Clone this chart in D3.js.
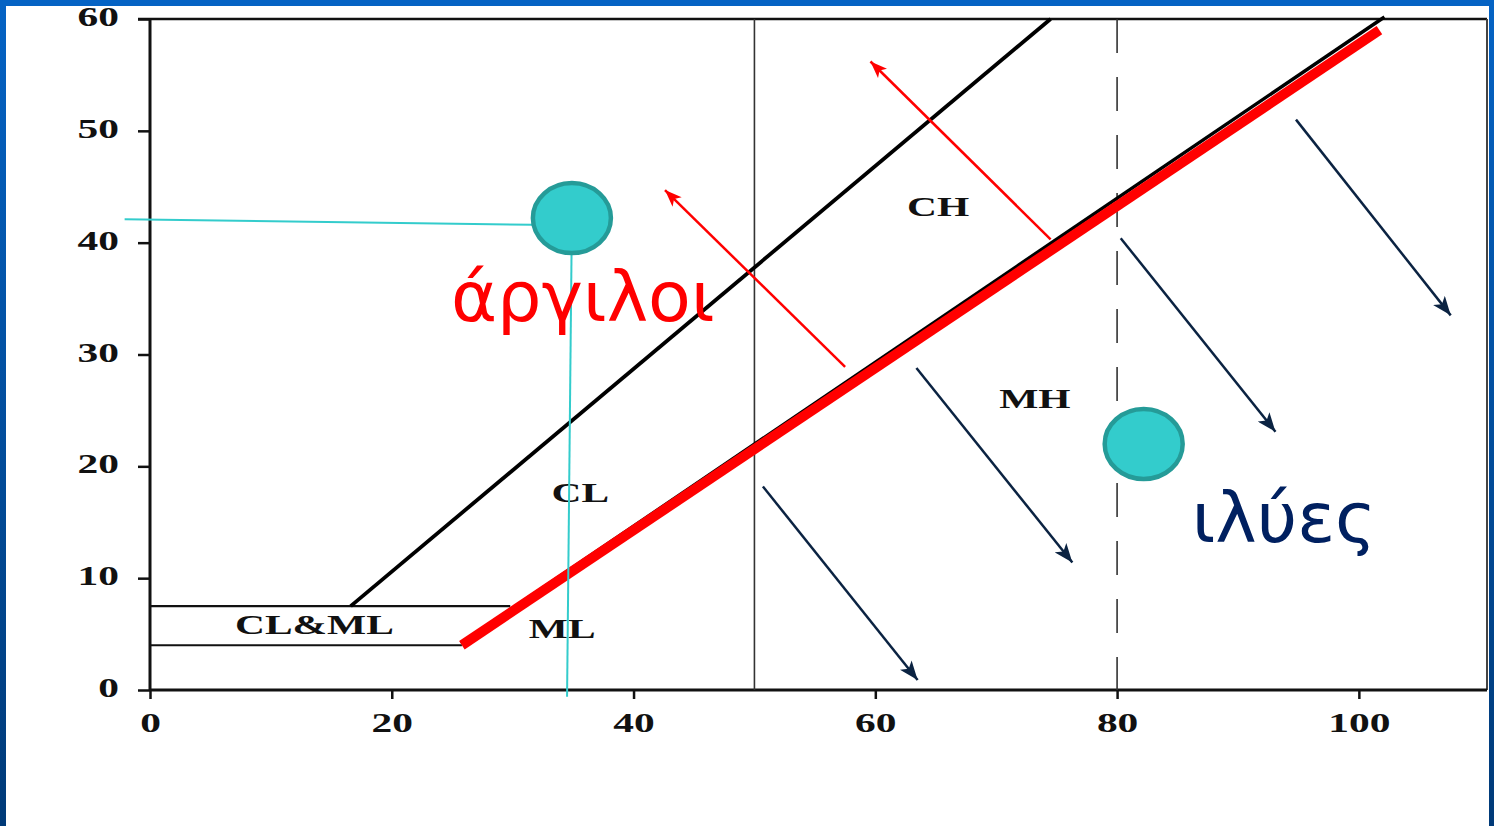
<!DOCTYPE html>
<html>
<head>
<meta charset="utf-8">
<script src="https://cdn.jsdelivr.net/npm/d3@7"></script>
<style>
  html, body { margin: 0; padding: 0; background: #ffffff; }
  svg { display: block; }
</style>
</head>
<body>
<script>
// ---------- data ----------
const xTicks = [0, 20, 40, 60, 80, 100];
const yTicks = [0, 10, 20, 30, 40, 50, 60];

// black (upper) line
const upperLine = [[16.6, 7.5], [74.5, 60]];
// A-line (red, with black under it)
const aLineBlack = [[25.8, 4.0], [102.2, 60]];
const aLineRed = [[25.8, 4.0], [101.7, 59.0]];
// CL&ML band
const bandTop = [[0, 7.5], [29.8, 7.5]];
const bandBottom = [[0, 4.0], [25.8, 4.0]];
// vertical LL lines
const llSolid = 50;
const llDashed = 80;

// cyan guide lines and markers
const guideH = [[-2.1, 42.1], [31.6, 41.6]];
const guideV = [[34.9, 42.2], [34.5, -0.6]];
const markers = [[34.9, 42.2], [82.2, 22.0]];

// zone labels
const zoneNames = ["CH", "MH", "CL", "ML", "CL&ML"];
const zoneX = [65.2, 73.2, 35.6, 34.1, 13.6];
const zoneY = [43.2, 26.1, 17.7, 5.5, 5.9];

// arrows
const redArrows = [
  [[57.5, 28.9], [42.6, 44.7]],
  [[74.5, 40.3], [59.6, 56.2]]
];
const navyArrows = [
  [[50.7, 18.2], [63.5, 0.9]],
  [[63.4, 28.8], [76.3, 11.4]],
  [[80.3, 40.4], [93.1, 23.1]],
  [[94.8, 51.0], [107.6, 33.5]]
];

// big Greek labels
const bigLabels = ["άργιλοι", "ιλύες"];
const bigX = [35.8, 93.8];
const bigY = [33.0, 13.2];
const bigColors = ["#ff0000", "#002060"];

// ---------- drawing ----------
const W = 1494, H = 826;
const svg = d3.select("body").append("svg").attr("width", W).attr("height", H);
const defs = svg.append("defs");

const grad = defs.append("linearGradient").attr("id", "blueGrad")
  .attr("x1", 0).attr("y1", 0).attr("x2", 0).attr("y2", 1);
grad.append("stop").attr("offset", "0%").attr("stop-color", "#0563c4");
grad.append("stop").attr("offset", "100%").attr("stop-color", "#003a78");

svg.append("rect").attr("width", W).attr("height", H).attr("fill", "url(#blueGrad)");
svg.append("rect").attr("x", 0).attr("y", 0).attr("width", W).attr("height", 6).attr("fill", "#0563c4");
svg.append("rect").attr("x", 6).attr("y", 6).attr("width", 1483).attr("height", H - 6).attr("fill", "#ffffff");

function arrowMarker(id, color, len, wid) {
  defs.append("marker").attr("id", id)
    .attr("viewBox", `0 0 ${len} ${wid}`)
    .attr("refX", len).attr("refY", wid / 2)
    .attr("markerWidth", len).attr("markerHeight", wid)
    .attr("markerUnits", "userSpaceOnUse")
    .attr("orient", "auto")
    .append("path").attr("d", `M0,0 L${len},${wid / 2} L0,${wid} L${len * 0.25},${wid / 2} Z`)
    .attr("fill", color);
}
arrowMarker("redHead", "#ff0000", 17, 13);
arrowMarker("navyHead", "#0b2342", 19, 15);

const x = d3.scaleLinear().domain([0, 110.6]).range([150, 1487]);
const y = d3.scaleLinear().domain([0, 60]).range([690, 19]);
const line = d3.line().x(d => x(d[0])).y(d => y(d[1]));

const SX = 1.48;
const axisFont = "'Liberation Serif', 'DejaVu Serif', serif";

// frame (top and right)
svg.append("line").attr("x1", 138).attr("x2", x.range()[1]).attr("y1", y(60)).attr("y2", y(60))
  .attr("stroke", "#111").attr("stroke-width", 2.5);
svg.append("line").attr("x1", x.range()[1]).attr("x2", x.range()[1]).attr("y1", y(60)).attr("y2", y(0))
  .attr("stroke", "#444").attr("stroke-width", 2);

// axes
const gx = svg.append("g").attr("transform", `translate(0,${y(0)})`)
  .call(d3.axisBottom(x).tickValues(xTicks).tickSize(9).tickSizeOuter(0).tickFormat(d3.format("d")));
const gy = svg.append("g").attr("transform", `translate(${x(0)},0)`)
  .call(d3.axisLeft(y).tickValues(yTicks).tickSize(12).tickSizeOuter(0).tickFormat(d3.format("d")));

[gx, gy].forEach(g => {
  g.select(".domain").attr("stroke", "#111").attr("stroke-width", 3);
  g.selectAll(".tick line").attr("stroke", "#111").attr("stroke-width", 2.5);
  g.selectAll(".tick text").attr("fill", "#111")
    .style("font-family", axisFont).style("font-weight", "bold").style("font-size", "28px");
});
gx.select(".domain").attr("d", `M${x(0)},0H${x.range()[1]}`);
gy.select(".domain").attr("d", `M0,${y(0)}V${y(60)}`);
gx.selectAll(".tick text").attr("dy", null).attr("y", 42)
  .attr("transform", `scale(${SX},1)`);
gy.selectAll(".tick text").attr("dy", null).attr("y", 6.5).attr("x", -31 / SX)
  .attr("transform", `scale(${SX},1)`);

// vertical LL lines
svg.append("line").attr("x1", x(llSolid)).attr("x2", x(llSolid)).attr("y1", y(60)).attr("y2", y(0))
  .attr("stroke", "#333").attr("stroke-width", 1.6);
svg.append("line").attr("x1", x(llDashed)).attr("x2", x(llDashed)).attr("y1", y(60)).attr("y2", y(0))
  .attr("stroke", "#333").attr("stroke-width", 1.6).attr("stroke-dasharray", "34,24");

// band lines
[bandTop, bandBottom].forEach(b => {
  svg.append("path").attr("d", line(b)).attr("stroke", "#111").attr("stroke-width", 2.2).attr("fill", "none");
});

// upper black line
svg.append("path").attr("d", line(upperLine)).attr("stroke", "#000").attr("stroke-width", 3.8).attr("fill", "none");
// A-line
svg.append("path").attr("d", line(aLineBlack)).attr("stroke", "#000").attr("stroke-width", 3.5).attr("fill", "none")
  .attr("transform", "translate(-1,-2)");
svg.append("path").attr("d", line(aLineRed)).attr("stroke", "#ff0000").attr("stroke-width", 10).attr("fill", "none");

// zone labels
svg.append("g").selectAll("text").data(zoneNames).join("text")
  .attr("x", (d, i) => x(zoneX[i]) / SX).attr("y", (d, i) => y(zoneY[i]) + 9.5)
  .attr("transform", `scale(${SX},1)`)
  .attr("text-anchor", "middle")
  .style("font-family", axisFont).style("font-weight", "bold").style("font-size", "28px")
  .attr("fill", "#111").text(d => d);

// cyan guides
[guideH, guideV].forEach(g => {
  svg.append("path").attr("d", line(g)).attr("stroke", "#33cccc").attr("stroke-width", 2).attr("fill", "none");
});

// arrows
svg.append("g").selectAll("path").data(redArrows).join("path")
  .attr("d", d => line(d)).attr("stroke", "#ff0000").attr("stroke-width", 2.5).attr("fill", "none")
  .attr("marker-end", "url(#redHead)");
svg.append("g").selectAll("path").data(navyArrows).join("path")
  .attr("d", d => line(d)).attr("stroke", "#0b2342").attr("stroke-width", 2.5).attr("fill", "none")
  .attr("marker-end", "url(#navyHead)");

// markers
svg.append("g").selectAll("ellipse").data(markers).join("ellipse")
  .attr("cx", d => x(d[0])).attr("cy", d => y(d[1]))
  .attr("rx", 39).attr("ry", 35)
  .attr("fill", "#33cccc").attr("stroke", "#259b98").attr("stroke-width", 4.5);

// big labels
svg.append("g").selectAll("text").data(bigLabels).join("text")
  .attr("x", (d, i) => x(bigX[i])).attr("y", (d, i) => y(bigY[i]))
  .attr("text-anchor", "middle")
  .style("font-family", "'DejaVu Sans', Verdana, sans-serif").style("font-size", "70px")
  .attr("fill", (d, i) => bigColors[i]).text(d => d);
</script>
</body>
</html>
